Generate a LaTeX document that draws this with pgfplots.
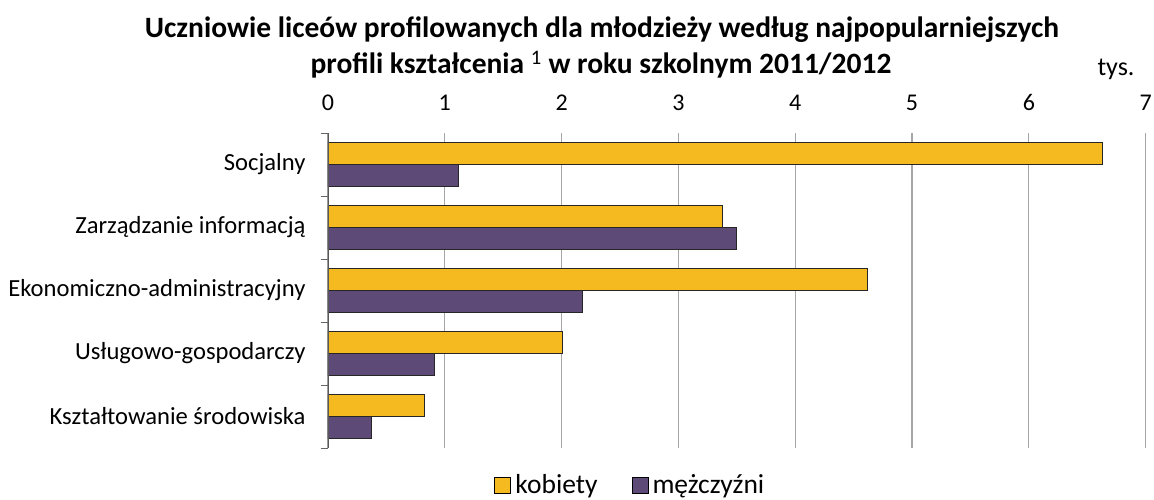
\documentclass[border=0pt]{standalone}
\usepackage{pgfplots}
\pgfplotsset{compat=1.18}
\usepackage{fontspec}
\setmainfont{Carlito}
\definecolor{kob}{HTML}{F4BA1F}
\definecolor{men}{HTML}{5D4A76}
\definecolor{gridc}{HTML}{A6A6A6}
\begin{document}
\begin{tikzpicture}[x=1pt,y=1pt]
\useasboundingbox (0,0) rectangle (1154,499);
\begin{axis}[
  at={(328pt,51pt)}, anchor=south west,
  scale only axis, width=817.7pt, height=315pt,
  xbar, bar width=22pt,
  xmin=0, xmax=7, ymin=-0.5, ymax=4.5,
  xtick={0,1,...,7},
  xticklabel pos=upper,
  x tick label style={font=\fontsize{24}{28}\selectfont, anchor=south, yshift=19pt},
  /pgf/number format/assume math mode=true,
  ytick={0,1,2,3,4},
  yticklabels={Kształtowanie środowiska,Usługowo-gospodarczy,Ekonomiczno-administracyjny,Zarządzanie informacją,Socjalny},
  y tick label style={font=\fontsize{24.6}{28}\selectfont, anchor=east, xshift=-19pt},
  minor ytick={-0.5,0.5,1.5,2.5,3.5,4.5},
  major tick length=0pt, minor tick length=7pt,
  tick align=outside, ytick pos=left, xtick pos=upper,
  minor tick style={draw=gray!80!black, line width=1pt},
  axis line style={draw=none},
  xmajorgrids, grid style={draw=gridc, line width=1.2pt},
  legend columns=2,
  legend style={at={(0.371,-0.118)}, anchor=center, draw=none, fill=none, font=\fontsize{27.5}{30}\selectfont,
    inner sep=0pt,
    nodes={inner xsep=4pt, inner ysep=2pt},
    /tikz/every even column/.append style={column sep=30pt}},
  legend image code/.code={\draw[#1, draw=black, line width=1pt] (0pt,-8pt) rectangle (16pt,8pt);},
]
\addplot[fill=kob, draw=black!85, line width=1pt, bar shift=11pt] coordinates {
  (0.83,0) (2.01,1) (4.62,2) (3.38,3) (6.63,4)};
\addplot[fill=men, draw=black!85, line width=1pt, bar shift=-11pt] coordinates {
  (0.37,0) (0.91,1) (2.18,2) (3.50,3) (1.12,4)};
\legend{kobiety,mężczyźni}
\draw[gray!70!black, line width=1.2pt] (axis cs:0,-0.5) -- (axis cs:0,4.5);
\end{axis}
\node[font=\bfseries\fontsize{29.5}{33}\selectfont] at (602,469) {Uczniowie liceów profilowanych dla młodzieży według najpopularniejszych};
\node[font=\bfseries\fontsize{29.5}{33}\selectfont] at (601,434) {profili kształcenia {\mdseries\textsuperscript{1}} w roku szkolnym 2011/2012};
\node[font=\fontsize{26}{30}\selectfont] at (1116,430) {tys.};
\end{tikzpicture}
\end{document}
